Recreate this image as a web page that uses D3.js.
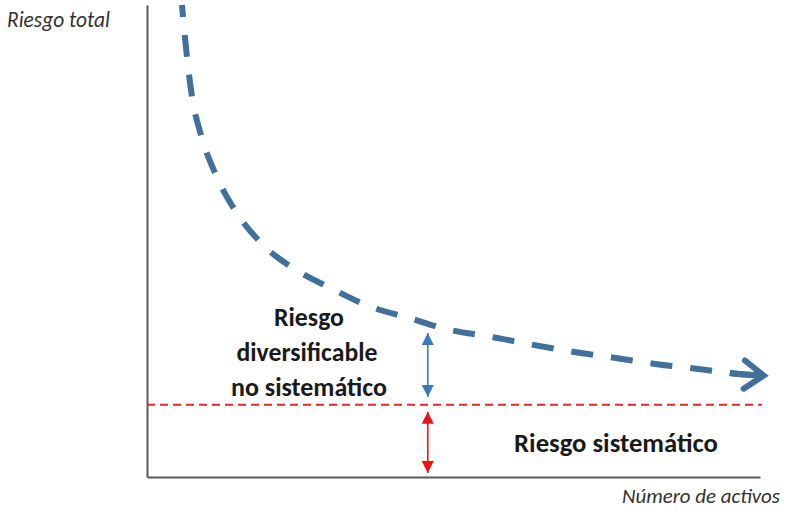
<!DOCTYPE html>
<html>
<head>
<meta charset="utf-8">
<script src="https://cdn.jsdelivr.net/npm/d3@7"></script>
<style>
  html, body { margin: 0; padding: 0; background: #fff; }
  svg { display: block; }
</style>
</head>
<body>
<svg id="chart" width="786" height="514"></svg>
<script>
// ---- data (number of assets, risk %) ----
const assets    = [5.7, 6.4, 7.3, 8.8, 11.1, 14.4, 18.6, 24.0, 30.0, 36.2, 42.7, 49.6, 56.1, 63.0, 69.7, 76.5, 83.2, 90.0, 96.7, 100.6];
const totalRisk = [100, 90.5, 80.9, 72.5, 64.4, 56.4, 49.6, 44.1, 40.0, 36.2, 33.7, 31.1, 29.7, 28.0, 26.5, 25.2, 23.9, 22.9, 21.8, 21.5];
const systematicRisk = 15.3;
const systematicEnd = 100.3;
const arrowAt = 45.8;
const diversifiableArrow = [16.95, 30.5];
const systematicArrow = [0.85, 13.8];
const yAxisLabel = "Riesgo total";
const xAxisLabel = "Número de activos";
const diversifiableLabel = ["Riesgo", "diversificable", "no sistemático"];
const systematicLabel = "Riesgo sistemático";

(function () {
// ---- layout ----
const svg = d3.select("#chart");
const mLeft = 147, mRight = 760, mTop = 5, mBottom = 477;
const x = d3.scaleLinear().domain([0, 100]).range([mLeft, mRight]);
const y = d3.scaleLinear().domain([0, 100]).range([mBottom, mTop]);
const FONT = "Carlito, Lato, 'Open Sans', sans-serif";

// axes (no ticks)
const axisColor = "#5a5a5a";
svg.append("g").attr("transform", `translate(0,${mBottom})`)
  .call(d3.axisBottom(x).tickValues([]).tickSizeOuter(0))
  .call(g => g.select(".domain").attr("stroke", axisColor).attr("stroke-width", 2));
svg.append("g").attr("transform", `translate(${mLeft},0)`)
  .call(d3.axisLeft(y).tickValues([]).tickSizeOuter(0))
  .call(g => g.select(".domain").attr("stroke", axisColor).attr("stroke-width", 2));

// systematic risk dashed red line
svg.append("line")
  .attr("x1", x(0)).attr("x2", x(systematicEnd))
  .attr("y1", y(systematicRisk)).attr("y2", y(systematicRisk))
  .attr("stroke", "#e8262b").attr("stroke-width", 2)
  .attr("stroke-dasharray", "8,5");

// total risk curve
const pts = assets.map((a, i) => [x(a), y(totalRisk[i])]);
const line = d3.line().curve(d3.curveMonotoneX);
const curveColor = "#41709c";
const path = svg.append("path")
  .attr("d", line(pts))
  .attr("fill", "none")
  .attr("stroke", curveColor)
  .attr("stroke-width", 6);
const L = path.node().getTotalLength();
const dash = 22, gap = 18, period = dash + gap;
const tailShaft = 34;
path.attr("stroke-dasharray", `${dash},${gap}`)
    .attr("stroke-dashoffset", ((dash - (L - tailShaft - gap)) % period + period) % period);
// solid shaft near the tip
{
  const n = 12, arr = [];
  for (let i = 0; i <= n; i++) {
    const p = path.node().getPointAtLength(L - tailShaft + tailShaft * i / n);
    arr.push([p.x, p.y]);
  }
  svg.append("path").attr("d", d3.line()(arr))
    .attr("fill", "none").attr("stroke", curveColor).attr("stroke-width", 6);
}
// open chevron head
{
  const tip = path.node().getPointAtLength(L);
  const back = path.node().getPointAtLength(L - 6);
  const ang = Math.atan2(tip.y - back.y, tip.x - back.x);
  const len = 24, spread = 36 * Math.PI / 180;
  const w1 = [tip.x - len * Math.cos(ang - spread), tip.y - len * Math.sin(ang - spread)];
  const w2 = [tip.x - len * Math.cos(ang + spread), tip.y - len * Math.sin(ang + spread)];
  svg.append("path")
    .attr("d", d3.line()([w1, [tip.x, tip.y], w2]))
    .attr("fill", "none").attr("stroke", curveColor).attr("stroke-width", 6)
    .attr("stroke-linejoin", "miter").attr("stroke-linecap", "round");
}

// double arrows
const defs = svg.append("defs");
function marker(id, color) {
  defs.append("marker").attr("id", id)
    .attr("viewBox", "0 0 12 12").attr("refX", 12).attr("refY", 6)
    .attr("markerWidth", 12).attr("markerHeight", 12)
    .attr("markerUnits", "userSpaceOnUse")
    .attr("orient", "auto-start-reverse")
    .append("path").attr("d", "M0,0 L12,6 L0,12 Z").attr("fill", color);
}
marker("headBlue", "#3b7bbd");
marker("headRed", "#ee1111");
function dbl(range, color, mk) {
  svg.append("line")
    .attr("x1", x(arrowAt)).attr("x2", x(arrowAt))
    .attr("y1", y(range[0])).attr("y2", y(range[1]))
    .attr("stroke", color).attr("stroke-width", 1.6)
    .attr("marker-start", `url(#${mk})`).attr("marker-end", `url(#${mk})`);
}
dbl(diversifiableArrow, "#3b7bbd", "headBlue");
dbl(systematicArrow, "#ee1111", "headRed");

// text helper: fit font size to a target width
function label(txt, cx, baseline, targetW, opts) {
  const t = svg.append("text")
    .attr("x", cx).attr("y", baseline)
    .attr("text-anchor", opts.anchor || "middle")
    .attr("font-family", FONT)
    .attr("font-weight", opts.weight || "normal")
    .attr("font-style", opts.style || "normal")
    .attr("fill", opts.fill || "#1a1a1a")
    .attr("font-size", 20)
    .text(txt);
  const w = t.node().getComputedTextLength();
  t.attr("font-size", 20 * targetW / w);
  return t;
}

label(yAxisLabel, 7, 27, 103, {anchor: "start", style: "italic", fill: "#333"});
label(xAxisLabel, 622, 503, 158, {anchor: "start", style: "italic", fill: "#333"});
label(diversifiableLabel[0], 309, 326, 70, {weight: "bold"});
label(diversifiableLabel[1], 307, 361, 141, {weight: "bold"});
label(diversifiableLabel[2], 309, 396, 156, {weight: "bold"});
label(systematicLabel, 616, 452, 204, {weight: "bold"});
})();
</script>
</body>
</html>
